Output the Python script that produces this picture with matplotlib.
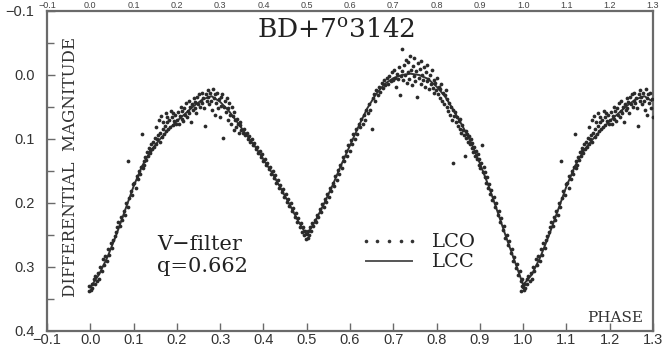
import numpy as np
import matplotlib
matplotlib.use("Agg")
import matplotlib.pyplot as plt
from matplotlib.lines import Line2D

plt.rcParams['mathtext.fontset'] = 'dejavuserif'

# ---------------- data ----------------
x_tick_values = [-0.1, 0.0, 0.1, 0.2, 0.3, 0.4, 0.5, 0.6, 0.7, 0.8, 0.9, 1.0, 1.1, 1.2, 1.3]
x_tick_labels = ["\u22120.1", "0.0", "0.1", "0.2", "0.3", "0.4", "0.5", "0.6", "0.7",
                 "0.8", "0.9", "1.0", "1.1", "1.2", "1.3"]
y_tick_values = [-0.1, 0.0, 0.1, 0.2, 0.3, 0.4]
y_tick_labels = ["\u22120.1", "0.0", "0.1", "0.2", "0.3", "0.4"]

# computed light curve (LCC)
lcc_phase = [0.00, 0.02, 0.04, 0.06, 0.08, 0.10, 0.12, 0.14, 0.16, 0.18, 0.20, 0.22, 0.24,
             0.26, 0.28, 0.30, 0.32, 0.34, 0.36, 0.38, 0.40, 0.42, 0.44, 0.46, 0.48, 0.50,
             0.52, 0.54, 0.56, 0.58, 0.60, 0.62, 0.64, 0.66, 0.68, 0.70, 0.72, 0.74, 0.76,
             0.78, 0.80, 0.82, 0.84, 0.86, 0.88, 0.90, 0.92, 0.94, 0.96, 0.98, 1.00]
lcc_mag = [0.332, 0.312, 0.284, 0.250, 0.212, 0.174, 0.142, 0.118, 0.101, 0.086, 0.072, 0.060,
           0.048, 0.038, 0.033, 0.042, 0.056, 0.074, 0.093, 0.111, 0.132, 0.153, 0.177, 0.202,
           0.228, 0.250, 0.228, 0.201, 0.172, 0.140, 0.110, 0.080, 0.052, 0.030, 0.014, 0.005,
           0.000, -0.002, 0.000, 0.006, 0.018, 0.034, 0.056, 0.080, 0.106, 0.138, 0.173, 0.212,
           0.252, 0.290, 0.328]

# observed light curve (LCO)
obs_phase = [
    -0.004, -0.002, 0.001, 0.003, 0.005, 0.008, 0.010, 0.012, 0.015, 0.018, 0.020, 0.023,
    0.026, 0.029, 0.032, 0.035, 0.038, 0.041, 0.044, 0.047, 0.050, 0.053, 0.056, 0.059,
    0.062, 0.065, 0.068, 0.071, 0.074, 0.077, 0.080, 0.083, 0.086, 0.088, 0.090, 0.093,
    0.096, 0.099,
    0.102, 0.105, 0.107, 0.110, 0.112, 0.115, 0.117, 0.119, 0.121, 0.123, 0.125, 0.127,
    0.129, 0.131, 0.133, 0.135, 0.137, 0.139, 0.141, 0.143, 0.146, 0.148, 0.150, 0.152,
    0.155, 0.157, 0.160, 0.162, 0.165, 0.167, 0.170, 0.172, 0.175, 0.177, 0.180, 0.182,
    0.185, 0.188, 0.190, 0.193, 0.196, 0.198,
    0.152, 0.158, 0.163, 0.168, 0.174, 0.178, 0.186, 0.192, 0.201, 0.203, 0.205, 0.207,
    0.209, 0.211, 0.213, 0.215, 0.217, 0.219, 0.221, 0.223, 0.225, 0.227, 0.229, 0.231,
    0.233, 0.235, 0.237, 0.239, 0.241, 0.243, 0.245, 0.247, 0.249, 0.251, 0.253, 0.255,
    0.257, 0.259, 0.261, 0.263, 0.265, 0.267, 0.269, 0.271, 0.273, 0.275, 0.277, 0.279,
    0.281, 0.283, 0.285, 0.287, 0.289, 0.291, 0.293, 0.295, 0.297, 0.299, 0.301, 0.303,
    0.305, 0.307, 0.309, 0.311, 0.313, 0.315, 0.317, 0.319, 0.321, 0.323, 0.325, 0.327,
    0.329, 0.331, 0.333, 0.335, 0.337, 0.339, 0.341, 0.343, 0.345, 0.347, 0.349,
    0.352, 0.355, 0.358, 0.361, 0.364, 0.367, 0.370, 0.373, 0.376, 0.379, 0.382, 0.385,
    0.388, 0.391, 0.394, 0.397, 0.400, 0.403, 0.406, 0.409, 0.412, 0.415, 0.418, 0.421,
    0.424, 0.427, 0.430, 0.433, 0.436, 0.439, 0.442, 0.445, 0.448, 0.451, 0.454, 0.457,
    0.460, 0.463, 0.466, 0.469, 0.472, 0.475, 0.478, 0.481, 0.484, 0.487, 0.490, 0.492,
    0.494, 0.496, 0.498, 0.500,
    0.502, 0.504, 0.506, 0.508, 0.510, 0.512, 0.515, 0.518, 0.521, 0.524, 0.527, 0.530,
    0.533, 0.536, 0.539, 0.542, 0.545, 0.548, 0.551, 0.554, 0.557, 0.560, 0.563, 0.566,
    0.569, 0.572, 0.575, 0.578, 0.581, 0.584, 0.587, 0.590, 0.593, 0.596, 0.599, 0.602,
    0.605, 0.608, 0.611, 0.614, 0.617, 0.620, 0.623, 0.626, 0.629, 0.632, 0.635, 0.638,
    0.641, 0.644, 0.647, 0.650,
    0.652, 0.655, 0.658, 0.661, 0.664, 0.667, 0.670, 0.673, 0.676, 0.679, 0.682, 0.685,
    0.688, 0.691, 0.694, 0.697, 0.700, 0.702, 0.705, 0.707, 0.709, 0.711, 0.713, 0.715,
    0.717, 0.719, 0.721, 0.723, 0.725, 0.727, 0.729, 0.731, 0.733, 0.735, 0.737, 0.739,
    0.741, 0.743, 0.745, 0.747, 0.749, 0.751, 0.753, 0.755, 0.757, 0.759, 0.761, 0.763,
    0.765, 0.767, 0.769, 0.771, 0.773, 0.775, 0.777, 0.779, 0.781, 0.783, 0.785, 0.787,
    0.789, 0.791, 0.793, 0.795, 0.797, 0.799, 0.801, 0.803, 0.805, 0.807, 0.809, 0.811,
    0.813, 0.815, 0.817, 0.819, 0.821, 0.823, 0.825, 0.827, 0.829, 0.831, 0.833, 0.835,
    0.837, 0.839, 0.841, 0.843, 0.845, 0.847, 0.849,
    0.851, 0.853, 0.855, 0.857, 0.859, 0.861, 0.863, 0.865, 0.867, 0.869, 0.871, 0.873,
    0.875, 0.877, 0.879, 0.881, 0.883, 0.885, 0.887, 0.889, 0.891, 0.893, 0.895, 0.897,
    0.899, 0.901, 0.903, 0.905, 0.907, 0.909, 0.911, 0.913, 0.915, 0.917, 0.919, 0.921,
    0.923, 0.926, 0.929, 0.932, 0.935, 0.938, 0.941, 0.944, 0.947, 0.950, 0.953, 0.956,
    0.959, 0.962, 0.965, 0.968, 0.971, 0.974, 0.977, 0.980, 0.983, 0.986, 0.989, 0.992,
    0.995, 0.997, 0.999]
obs_mag = [
    0.338, 0.330, 0.336, 0.326, 0.333, 0.318, 0.327, 0.314, 0.322, 0.309, 0.318, 0.300,
    0.306, 0.288, 0.297, 0.283, 0.290, 0.272, 0.281, 0.262, 0.270, 0.258, 0.252, 0.245,
    0.238, 0.230, 0.236, 0.222, 0.226, 0.212, 0.218, 0.200, 0.206, 0.135, 0.192, 0.182,
    0.188, 0.170,
    0.168, 0.176, 0.158, 0.162, 0.150, 0.155, 0.143, 0.092, 0.146, 0.134, 0.140, 0.128,
    0.133, 0.121, 0.126, 0.114, 0.119, 0.122, 0.108, 0.116, 0.104, 0.112, 0.098, 0.108,
    0.100, 0.094, 0.104, 0.090, 0.097, 0.085, 0.092, 0.080, 0.088, 0.074, 0.084, 0.070,
    0.082, 0.066, 0.078, 0.072, 0.062, 0.076,
    0.082, 0.070, 0.064, 0.073, 0.060, 0.066, 0.056, 0.060, 0.070, 0.058, 0.076, 0.064,
    0.050, 0.068, 0.057, 0.072, 0.052, 0.062, 0.044, 0.066, 0.056, 0.040, 0.060, 0.050,
    0.074, 0.046, 0.055, 0.036, 0.052, 0.042, 0.060, 0.034, 0.046, 0.030, 0.050, 0.040,
    0.028, 0.044, 0.036, 0.052, 0.079, 0.030, 0.040, 0.024, 0.034, 0.046, 0.028, 0.040,
    0.055, 0.022, 0.036, 0.062, 0.030, 0.044, 0.028, 0.052, 0.038, 0.066, 0.034, 0.048,
    0.030, 0.098, 0.050, 0.040, 0.058, 0.036, 0.070, 0.052, 0.044, 0.062, 0.076, 0.050,
    0.064, 0.086, 0.058, 0.070, 0.082, 0.068, 0.076, 0.090, 0.078, 0.074, 0.086,
    0.090, 0.084, 0.094, 0.090, 0.100, 0.095, 0.104, 0.100, 0.110, 0.106, 0.116, 0.112,
    0.122, 0.118, 0.128, 0.124, 0.135, 0.131, 0.141, 0.137, 0.147, 0.143, 0.154, 0.150,
    0.161, 0.157, 0.168, 0.164, 0.176, 0.172, 0.183, 0.178, 0.190, 0.186, 0.198, 0.193,
    0.205, 0.200, 0.213, 0.208, 0.222, 0.216, 0.230, 0.224, 0.237, 0.232, 0.245, 0.238,
    0.250, 0.244, 0.256, 0.248,
    0.254, 0.243, 0.250, 0.238, 0.244, 0.232, 0.236, 0.226, 0.230, 0.218, 0.222, 0.210,
    0.214, 0.202, 0.206, 0.194, 0.199, 0.186, 0.190, 0.176, 0.182, 0.168, 0.174, 0.158,
    0.164, 0.148, 0.155, 0.140, 0.146, 0.128, 0.135, 0.118, 0.126, 0.110, 0.118, 0.102,
    0.108, 0.092, 0.100, 0.084, 0.092, 0.076, 0.082, 0.068, 0.076, 0.062, 0.070, 0.054,
    0.060, 0.046, 0.054, 0.084,
    0.036, 0.030, 0.040, 0.024, 0.032, 0.018, 0.026, 0.012, 0.020, 0.008, 0.016, 0.004,
    0.014, 0.002, 0.010, -0.004, 0.008, -0.008, 0.004, 0.018, -0.002, 0.006, -0.012, 0.032,
    0.002, -0.040, -0.006, 0.008, -0.016, 0.000, -0.024, 0.012, -0.004, -0.020, 0.006, -0.030,
    -0.008, 0.016, -0.014, 0.002, -0.026, 0.010, -0.006, 0.035, -0.018, 0.004, -0.010, 0.014,
    -0.022, 0.000, 0.008, -0.012, 0.018, -0.004, 0.010, -0.016, 0.006, 0.022, 0.000, 0.014,
    -0.008, 0.020, 0.008, 0.028, 0.012, 0.024, 0.004, 0.030, 0.018, 0.036, 0.022, 0.014,
    0.040, 0.028, 0.046, 0.032, 0.024, 0.050, 0.038, 0.056, 0.044, 0.062, 0.050, 0.070,
    0.054, 0.138, 0.064, 0.058, 0.074, 0.066, 0.080,
    0.072, 0.084, 0.068, 0.090, 0.078, 0.086, 0.094, 0.126, 0.088, 0.098, 0.092, 0.104,
    0.096, 0.108, 0.100, 0.114, 0.106, 0.120, 0.112, 0.126, 0.118, 0.132, 0.124, 0.140,
    0.132, 0.146, 0.138, 0.110, 0.152, 0.144, 0.160, 0.152, 0.168, 0.160, 0.176, 0.170,
    0.186, 0.180, 0.196, 0.190, 0.206, 0.200, 0.218, 0.212, 0.230, 0.224, 0.242, 0.236,
    0.254, 0.250, 0.266, 0.260, 0.278, 0.272, 0.290, 0.284, 0.302, 0.296, 0.312, 0.306,
    0.322, 0.318, 0.332]

# ---------------- figure ----------------
W, H = 663, 347
fig = plt.figure(figsize=(W / 100, H / 100), dpi=100)
ax = fig.add_axes([47 / W, 16 / H, 606 / W, 320 / H])

ph = np.array(obs_phase)
mg = np.array(obs_mag)
rep = ph < 0.30
ph_all = np.concatenate([ph, ph[rep] + 1.0])
mg_all = np.concatenate([mg, mg[rep]])

lp = np.array(lcc_phase)
lm = np.array(lcc_mag)
lrep = (lp > 0) & (lp <= 0.30 + 1e-9)
lp_all = np.concatenate([lp, lp[lrep] + 1.0])
lm_all = np.concatenate([lm, lm[lrep]])

ax.plot(lp_all, lm_all, color='#333333', lw=1.4, zorder=2)
ax.plot(ph_all, mg_all, ls='none', marker='o', ms=2.7, mfc='#2a2a2a', mec='none',
        zorder=3)

ax.set_xlim(-0.1, 1.3)
ax.set_ylim(0.4, -0.1)

spine_col = '#6a6a6a'
for s in ax.spines.values():
    s.set_color(spine_col)
    s.set_linewidth(1.6)

ax.set_xticks(x_tick_values)
ax.set_xticklabels(x_tick_labels)
ax.set_yticks(y_tick_values)
ax.set_yticklabels(y_tick_labels)
ax.set_yticks(np.arange(-0.05, 0.4, 0.1), minor=True)

ax.tick_params(axis='x', which='major', direction='in', length=6, width=1.0,
               color=spine_col, pad=1.2, labelsize=10.5, labelcolor='#333333')
ax.tick_params(axis='y', which='major', direction='in', length=6, width=1.0,
               color=spine_col, pad=9, labelsize=10.5, labelcolor='#333333')
ax.tick_params(axis='y', which='minor', direction='in', length=5, width=1.0,
               color=spine_col)
for lab in ax.get_xticklabels() + ax.get_yticklabels():
    lab.set_fontfamily('Liberation Sans')

# tick labels of the panel above, squeezed into the thin top margin
sec = ax.secondary_xaxis('top')
sec.set_xticks(x_tick_values)
sec.set_xticklabels(x_tick_labels)
sec.tick_params(length=0, pad=0.6, labelsize=6.5, labelcolor='#444444')
sec.spines['top'].set_visible(False)
for lab in sec.get_xticklabels():
    lab.set_fontfamily('Liberation Sans')

serif = 'DejaVu Serif'
ax.text(0.477, 0.919, "BD+7$^{\\mathrm{o}}$3142", transform=ax.transAxes,
        ha='center', va='baseline', fontsize=19, family=serif, color='#222222')
ax.text(0.0396, 0.514, "DIFFERENTIAL  MAGNITUDE", transform=ax.transAxes,
        rotation=90, ha='center', va='center', fontsize=12, family=serif,
        color='#333333')
ax.text(0.983, 0.028, "PHASE", transform=ax.transAxes, ha='right', va='baseline',
        fontsize=11, family=serif, color='#333333')
ax.text(0.1815, 0.252, "V\u2212filter", transform=ax.transAxes, ha='left',
        va='baseline', fontsize=15, family=serif, color='#222222')
ax.text(0.1815, 0.184, "q=0.662", transform=ax.transAxes, ha='left',
        va='baseline', fontsize=15, family=serif, color='#222222')

handles = [Line2D([], [], ls='none', marker='o', ms=2.6, mfc='#333333', mec='none'),
           Line2D([], [], color='#555555', lw=1.4)]
leg = ax.legend(handles, ["LCO", "LCC"], loc='upper left',
                bbox_to_anchor=(0.516, 0.305), frameon=False, numpoints=5,
                handlelength=3.0, handletextpad=0.7, labelspacing=0.1,
                borderpad=0, borderaxespad=0,
                prop=dict(family=serif, size=14))
for t in leg.get_texts():
    t.set_color('#222222')

fig.savefig("out.png", dpi=100)
